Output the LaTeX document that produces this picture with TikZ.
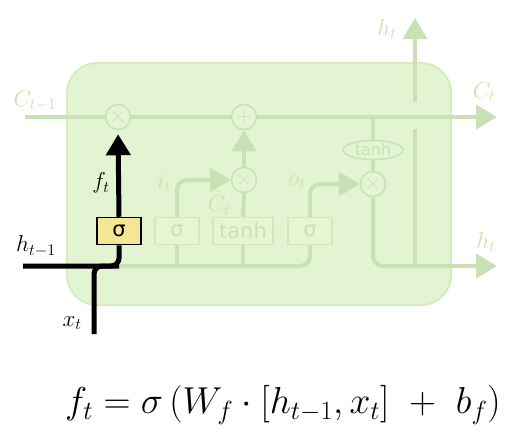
\RequirePackage{fix-cm}
\documentclass[tikz,border=0pt]{standalone}
\usepackage{fontspec}
\newfontfamily\gatefont{DejaVu Sans}
\usetikzlibrary{arrows.meta, shapes.geometric, calc}
\definecolor{cellFill}{HTML}{E2F4D1}
\definecolor{cellEdge}{HTML}{D4ECC0}
\definecolor{wireGreen}{HTML}{C9E2B5}
\definecolor{opFill}{HTML}{E4F5D6}
\definecolor{gateFill}{HTML}{E8F6D0}
\definecolor{gateEdge}{HTML}{D0E8BC}
\definecolor{fgFill}{HTML}{F3E796}
\tikzset{
  cellbox/.style = {
    rectangle, rounded corners=30pt, draw=cellEdge, line width=2pt,
    fill=cellFill, inner sep=0pt,
  },
  op/.style = {
    circle, draw=wireGreen, line width=1.5pt, fill=opFill,
    minimum size=25pt, inner sep=0pt, text=wireGreen,
    font=\fontsize{22}{22}\selectfont,
  },
  gate/.style = {
    rectangle, draw=gateEdge, line width=1.5pt, fill=gateFill,
    minimum width=44pt, minimum height=27pt, inner sep=0pt,
    text=wireGreen, font=\gatefont\fontsize{21}{21}\selectfont,
  },
  fgate/.style = {
    gate, draw=black, fill=fgFill, text=black,
  },
  squash/.style = {
    ellipse, draw=wireGreen, line width=1.5pt, fill=opFill,
    minimum width=60pt, minimum height=19pt, inner sep=0pt,
    text=wireGreen, font=\gatefont\fontsize{16}{16}\selectfont,
  },
  wire/.style = {draw=wireGreen, line width=4pt, rounded corners=10pt},
  wireK/.style = {draw=black, line width=5pt, rounded corners=8pt},
  lbl/.style = {text=wireGreen, font=\fontsize{23}{23}\selectfont, inner sep=0pt},
  lblK/.style = {lbl, text=black},
}

\begin{document}
\begin{tikzpicture}[x=1pt, y=-1pt, >={Triangle[length=21pt, width=24pt]}]
\useasboundingbox (0,0) rectangle (516,440);

\node[cellbox, minimum width=384pt, minimum height=242pt] (cell) at (259,184) {};

% pointwise operations
\node[op] (mulf) at (118,117) {$\times$};
\node[op] (add)  at (244,117) {$+$};
\node[op] (muli) at (244,180) {$\times$};
\node[op] (mulo) at (373,184) {$\times$};
\node[squash] (tanhc) at (373,150) {tanh};

% gate layers
\node[fgate] (sgf) at (119,231) {σ};
\node[gate]  (sgi) at (177,231) {σ};
\node[gate, minimum width=60pt] (tnh) at (243,231) {tanh};
\node[gate]  (sgo) at (310,231) {σ};

\coordinate (cin)  at (25,117);
\coordinate (cout) at (497,117);
\coordinate (hin)  at (23,266);
\coordinate (xin)  at (94,334);
\coordinate (hout) at (497,266);
\coordinate (hup)  at (415,18);
\coordinate (hhi)  at (415,102);
\coordinate (hlo)  at (415,129);

% cell state
\draw[wire] (cin) -- (mulf.west);
\draw[wire] (mulf.east) -- (add.west);
\draw[wire, ->] (add.east) -- (cout);
\draw[wire, ->] (muli.north) -- (add.south);
\draw[wire] (tnh.north) -- (muli.south);
\draw[wire, ->] (sgi.north) |- (muli.west);
\draw[wire, ->] (sgo.north) |- (mulo.west);
\draw[wire] (tanhc.north |- cout) -- (tanhc.north);
\draw[wire] (tanhc.south) -- (mulo.north);
\draw[wire, ->] (mulo.south) |- (hout);
\draw[wire] (hlo) -- (hlo |- hout);
\draw[wire, ->] (hhi) -- (hup);
\draw[wire] (sgf.south |- hin) -| (sgo.south);
\draw[wire] (sgi.south) -- (sgi.south |- hin);
\draw[wire] (tnh.south) -- (tnh.south |- hin);

% forget gate path
\draw[wireK] (hin) -| (sgf.south);
\draw[wireK] (xin) |- (sgf.south |- hin);
\draw[wireK, ->, shorten >=4pt] (sgf.north) -- (mulf.south);

% labels
\node[lbl]  (lcp) at (35,101)  {$C_{t-1}$};
\node[lbl]  (lct) at (484,92)  {$C_t$};
\node[lbl]  (lhu) at (387,29)  {$h_t$};
\node[lbl]  (lho) at (486,242) {$h_t$};
\node[lblK] (lhi) at (36,246)  {$h_{t-1}$};
\node[lblK] (lx)  at (72,323)  {$x_t$};
\node[lblK] (lf)  at (101,183) {$f_t$};
\node[lbl]  (li)  at (164,183) {$i_t$};
\node[lbl]  (lcc) at (219,203) {$\tilde{C}_t$};
\node[lbl]  (lo)  at (297,182) {$o_t$};

\node[font=\fontsize{37.5}{40}\selectfont] (eq) at (283,405)
  {$f_t = \sigma\,(W_f \cdot [h_{t-1}, x_t] \ + \ b_f)$};

\end{tikzpicture}
\end{document}
